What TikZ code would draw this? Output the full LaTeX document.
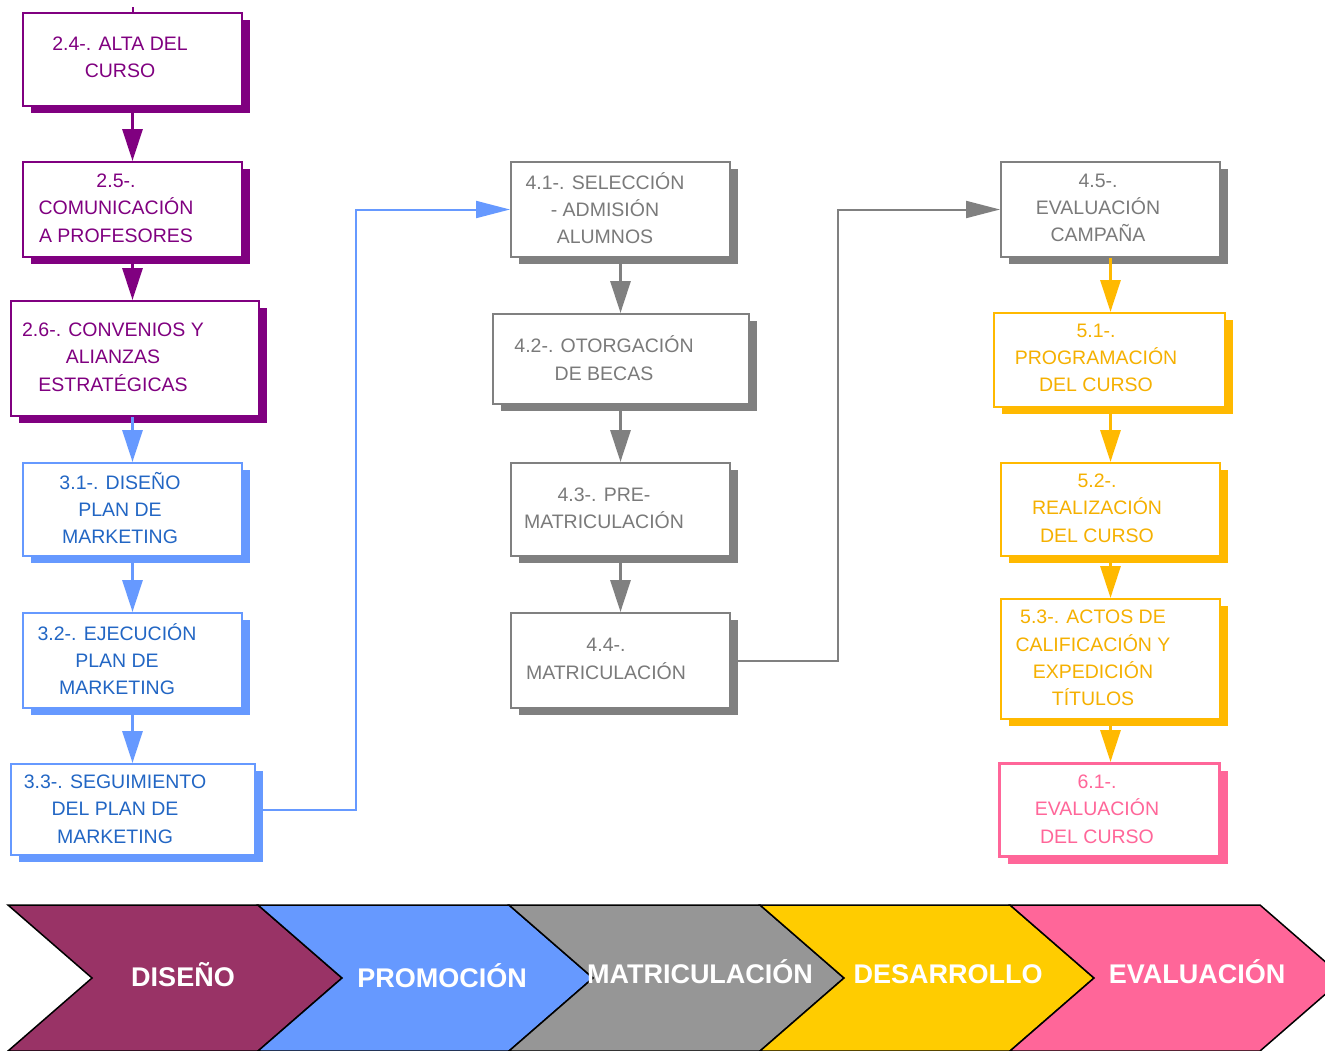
\documentclass[tikz,border=0pt]{standalone}
\usepackage{fontspec}
\setmainfont{Liberation Sans}
\usetikzlibrary{arrows.meta,shadows,calc}
\definecolor{cpur}{HTML}{800080}
\definecolor{cblu}{HTML}{6699FF}
\definecolor{tblu}{HTML}{2266C4}
\definecolor{cgry}{HTML}{808080}
\definecolor{tgry}{HTML}{7A7A7A}
\definecolor{cyel}{HTML}{FFB900}
\definecolor{tyel}{HTML}{F5B000}
\definecolor{cpnk}{HTML}{FF6699}
\definecolor{chva}{HTML}{993366}
\definecolor{chvb}{HTML}{6699FF}
\definecolor{chvc}{HTML}{969696}
\definecolor{chvd}{HTML}{FFCC00}
\definecolor{chve}{HTML}{FF6699}
\begin{document}
\begin{tikzpicture}[x=1pt,y=-1pt,
  bx/.style={draw=#1, line width=2pt, fill=white, inner sep=0pt,
    drop shadow={shadow xshift=8pt, shadow yshift=-7pt, fill=#1, opacity=1}},
  tx/.style={text=#1, align=center, inner sep=0pt, font=\fontsize{19.5}{27.3}\selectfont},
  vcon/.style={draw=#1, line width=3pt, -{Triangle[length=32pt,width=20pt]}},
  hcon/.style={draw=#1, line width=2pt, -{Triangle[length=34pt,width=17pt]}},
  chv/.style={fill=#1, draw=black, line width=1.5pt, line join=miter},
  ctx/.style={text=white, font=\fontsize{27}{30}\selectfont\bfseries, anchor=base, inner sep=0pt}
]
\useasboundingbox (0,0) rectangle (1325,1050);
\fill[white] (0,0) rectangle (1325,1050);

% ---- boxes: column 1
\node[bx=cpur, minimum width=219pt, minimum height=93pt] (b24) at (132.5,59.5) {};
\node[bx=cpur, minimum width=219pt, minimum height=95pt] (b25) at (132.5,209.5) {};
\node[bx=cpur, minimum width=248pt, minimum height=115pt] (b26) at (135,358.5) {};
\node[bx=cblu, minimum width=219pt, minimum height=93pt] (b31) at (132.5,509.5) {};
\node[bx=cblu, minimum width=219pt, minimum height=95pt] (b32) at (132.5,660.5) {};
\node[bx=cblu, minimum width=244pt, minimum height=91pt] (b33) at (133,809.5) {};
% ---- column 2
\node[bx=cgry, minimum width=219pt, minimum height=95pt] (b41) at (620.5,209.5) {};
\node[bx=cgry, minimum width=256pt, minimum height=90pt] (b42) at (621,359) {};
\node[bx=cgry, minimum width=219pt, minimum height=93pt] (b43) at (620.5,509.5) {};
\node[bx=cgry, minimum width=219pt, minimum height=95pt] (b44) at (620.5,660.5) {};
% ---- column 3
\node[bx=cgry, minimum width=219pt, minimum height=95pt] (b45) at (1110.5,209.5) {};
\node[bx=cyel, minimum width=231pt, minimum height=94pt] (b51) at (1109.5,360) {};
\node[bx=cyel, minimum width=219pt, minimum height=93pt] (b52) at (1110.5,509.5) {};
\node[bx=cyel, minimum width=219pt, minimum height=120pt] (b53) at (1110.5,659) {};
\node[bx=cpnk, line width=3pt, minimum width=220pt, minimum height=93pt] (b61) at (1109.5,810) {};

% ---- texts
\node[tx=cpur] (t24) at (120,57) {2.4-. ALTA DEL\\CURSO};
\node[tx=cpur] (t25) at (116,208) {2.5-.\\COMUNICACIÓN\\A PROFESORES};
\node[tx=cpur] (t26) at (113,357) {2.6-. CONVENIOS Y\\ALIANZAS\\ESTRATÉGICAS};
\node[tx=tblu] (t31) at (120,508) {3.1-. DISEÑO\\PLAN DE\\MARKETING};
\node[tx=tblu] (t32) at (117,659) {3.2-. EJECUCIÓN\\PLAN DE\\MARKETING};
\node[tx=tblu] (t33) at (115,809) {3.3-. SEGUIMIENTO\\DEL PLAN DE\\MARKETING};
\node[tx=tgry] (t41) at (605,208) {4.1-. SELECCIÓN\\- ADMISIÓN\\ALUMNOS};
\node[tx=tgry] (t42) at (604,358) {4.2-. OTORGACIÓN\\DE BECAS};
\node[tx=tgry] (t43) at (604,508) {4.3-. PRE-\\MATRICULACIÓN};
\node[tx=tgry] (t44) at (606,659) {4.4-.\\MATRICULACIÓN};
\node[tx=tgry] (t45) at (1098,208) {4.5-.\\EVALUACIÓN\\CAMPAÑA};
\node[tx=tyel] (t51) at (1096,358) {5.1-.\\PROGRAMACIÓN\\DEL CURSO};
\node[tx=tyel] (t52) at (1097,508) {5.2-.\\REALIZACIÓN\\DEL CURSO};
\node[tx=tyel] (t53) at (1093,658) {5.3-. ACTOS DE\\CALIFICACIÓN Y\\EXPEDICIÓN\\TÍTULOS};
\node[tx=cpnk] (t61) at (1097,809) {6.1-.\\EVALUACIÓN\\DEL CURSO};

% ---- connectors
\coordinate (top) at (132.5,7);
\draw[cpur, line width=2pt] (top) -- (b24.north);
\draw[vcon=cpur] (b24.south) -- (b25.north);
\draw[vcon=cpur] (b25.south) -- (b25.south |- b26.north);
\draw[vcon=cblu] (b26.south -| b31) -- (b31.north);
\draw[vcon=cblu] (b31.south) -- (b32.north);
\draw[vcon=cblu] (b32.south) -- (b32.south |- b33.north);
\draw[hcon=cblu] (b33.east) -- ++(100,0) |- (b41.west);
\draw[vcon=cgry] (b41.south) -- (b41.south |- b42.north);
\draw[vcon=cgry] (b42.south -| b43) -- (b43.north);
\draw[vcon=cgry] (b43.south) -- (b44.north);
\draw[hcon=cgry] (b44.east) -- ++(107,0) |- (b45.west);
\draw[vcon=cyel] (b45.south) -- (b45.south |- b51.north);
\draw[vcon=cyel] (b51.south -| b52) -- (b52.north);
\draw[vcon=cyel] (b52.south) -- (b53.north);
\draw[vcon=cyel] (b53.south) -- (b53.south |- b61.north);

% ---- chevrons
\foreach \L/\R/\c in {8/258/chva, 258/509/chvb, 509/760/chvc, 760/1010/chvd, 1010/1260/chve}
  \draw[chv=\c] (\L,905) -- (\R,905) -- (\R+84,978) -- (\R,1051) -- (\L,1051) -- (\L+84,978) -- cycle;
\node[ctx] (l1) at (183,986) {DISEÑO};
\node[ctx] (l2) at (442,987) {PROMOCIÓN};
\node[ctx] (l3) at (700,983) {MATRICULACIÓN};
\node[ctx] (l4) at (948,983) {DESARROLLO};
\node[ctx] (l5) at (1197,983) {EVALUACIÓN};
\end{tikzpicture}
\end{document}
